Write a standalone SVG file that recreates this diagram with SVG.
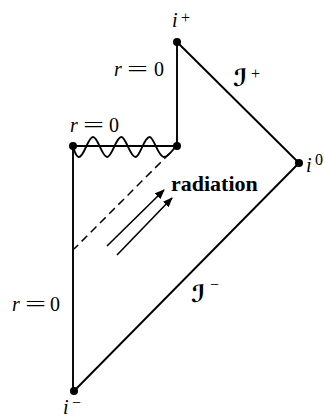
<svg xmlns="http://www.w3.org/2000/svg" width="324" height="420" viewBox="0 0 324 420">
<style>
.ln{stroke:#000;stroke-width:1.9;fill:none;stroke-linecap:round}
.dash{stroke:#000;stroke-width:1.5;fill:none;stroke-dasharray:8 5}
.arr{stroke:#000;stroke-width:1.6;fill:none;marker-end:url(#ah)}
.dot{fill:#000}
.it{font-family:"Liberation Serif","DejaVu Serif",serif;font-style:italic;font-size:20px;fill:#000}
.rm{font-family:"Liberation Serif","DejaVu Serif",serif;font-size:20px;fill:#000}
.sup{font-family:"Liberation Serif","DejaVu Serif",serif;font-size:16px;fill:#000}
.scri{font-family:"DejaVu Sans","DejaVu Serif",serif;font-weight:bold;font-size:24px;fill:#000}
.lab{font-family:"Liberation Serif","DejaVu Serif",serif;font-size:22px;font-weight:bold;fill:#000}
</style>
<defs>
<marker id="ah" viewBox="0 0 10 8" refX="9" refY="4" markerWidth="10" markerHeight="8" markerUnits="userSpaceOnUse" orient="auto">
<path d="M0,0 L10,4 L0,8 Z" fill="#000"/>
</marker>
</defs>
<g id="connectors">
<line class="ln" x1="177" y1="42" x2="177" y2="146"/>
<line class="ln" x1="177" y1="42" x2="299" y2="163"/>
<line class="ln" x1="74" y1="391" x2="299" y2="163"/>
<line class="ln" x1="73" y1="146" x2="73" y2="391"/>
<line class="ln" x1="73" y1="146" x2="177" y2="146"/>
<path class="ln" stroke-width="1.6" d="M73,147 C75,152 76,157 79,157 C84,157 88,137 93,137 C98,137 102,157 107.2,157 C112,157 116,137 121.3,137 C126,137 130,157 135.5,157 C140,157 144,137 149.6,137 C154,137 158,157 163.8,157 C169,157 173,149 177,145"/>
<line class="dash" x1="170" y1="153" x2="74" y2="249"/>
<line class="arr" x1="107" y1="246" x2="164" y2="190"/>
<line class="arr" x1="117" y1="255" x2="172" y2="198"/>
</g>
<g id="i-plus">
<circle class="dot" cx="177" cy="42" r="4"/>
<text class="it" x="172" y="27">i</text>
<text class="sup" x="181" y="23">+</text>
</g>
<g id="i-zero">
<circle class="dot" cx="299" cy="163" r="4"/>
<text class="it" x="306" y="172">i</text>
<text class="sup" x="315" y="165">0</text>
</g>
<g id="i-minus">
<circle class="dot" cx="74" cy="391" r="4"/>
<text class="it" x="63" y="414">i</text>
<text class="sup" x="72" y="408">−</text>
</g>
<g id="singularity-left">
<circle class="dot" cx="73" cy="146" r="4"/>
</g>
<g id="singularity-right">
<circle class="dot" cx="177" cy="146" r="4"/>
</g>
<g id="label-r0-top">
<text class="it" x="114" y="76">r</text>
<text class="rm" x="127" y="76" textLength="21" lengthAdjust="spacingAndGlyphs">=</text>
<text class="rm" x="154" y="76">0</text>
</g>
<g id="label-r0-wave">
<text class="it" x="70" y="132">r</text>
<text class="rm" x="83" y="132" textLength="21" lengthAdjust="spacingAndGlyphs">=</text>
<text class="rm" x="109" y="132">0</text>
</g>
<g id="label-r0-left">
<text class="it" x="12" y="311">r</text>
<text class="rm" x="25" y="311" textLength="21" lengthAdjust="spacingAndGlyphs">=</text>
<text class="rm" x="50" y="311">0</text>
</g>
<g id="scri-plus">
<text class="scri" x="233" y="86">ℐ</text>
<text class="sup" x="251" y="79">+</text>
</g>
<g id="scri-minus">
<text class="scri" x="191" y="302">ℐ</text>
<text class="sup" x="210" y="290">−</text>
</g>
<g id="radiation">
<text class="lab" x="171" y="191">radiation</text>
</g>
</svg>
